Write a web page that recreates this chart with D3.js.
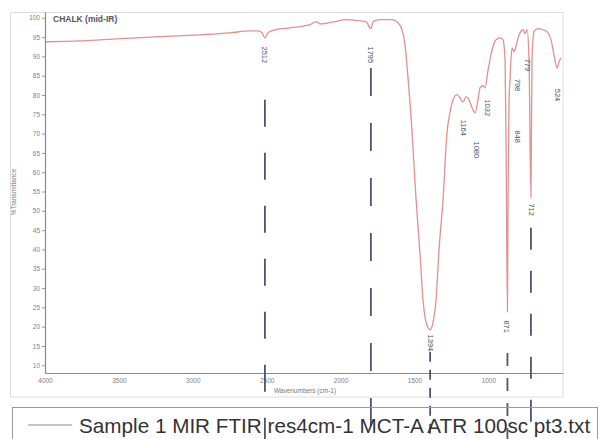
<!DOCTYPE html>
<html><head><meta charset="utf-8">
<script src="https://cdn.jsdelivr.net/npm/d3@7"></script>
<style>body{margin:0;background:#fff;} svg{display:block;font-family:"Liberation Sans",Arial,sans-serif;}</style>
</head><body><svg id="c" width="601" height="439"></svg>
<script>
// ---- data ----
const wavenumbers = [3993,3763,3492,3222,2951,2748,2613,2559,2531,2512,2491,2444,2342,2207,2166,2139,2038,1970,1868,1828,1795,1780,1733,1652,1611,1584,1564,1550,1516,1489,1462,1442,1422,1394,1374,1354,1334,1307,1280,1259,1239,1212,1192,1171,1151,1131,1110,1090,1070,1056,1036,1022,1002,975,948,921,901,887,880,871,867,860,853,840,826,813,799,786,765,752,738,725,712,705,691,664,630,596,576,556,535,522,508];
const transmittance = [93.8,94.0,94.6,95.1,95.6,96.1,96.6,96.6,96.1,94.8,96.1,96.9,97.4,98.2,99.0,98.4,99.0,99.5,99.2,99.0,97.2,99.0,99.5,99.5,98.7,96.9,93.0,87.3,70.2,52.8,38.6,26.9,21.2,19.2,21.2,26.9,39.9,52.8,70.2,75.6,78.8,80.1,79.3,78.2,79.5,78.8,76.7,75.4,78.8,81.9,82.4,81.9,86.5,91.7,94.3,94.8,94.3,89.1,65.8,23.8,52.8,78.8,84.5,92.2,91.2,92.7,94.8,96.1,96.9,95.9,96.9,89.1,53.4,89.1,96.4,97.2,96.9,96.1,94.3,90.4,87.0,88.6,89.6];

const peakLabels  = ["2512","1795","1394","1164","1080","1032","871","848","798","779","712","524"];
const peakLabelWn = [2512,1795,1394,1171,1077,1009,874,806,806,738,705,535];
const peakLabelT  = [90.4,90.4,15.8,71.5,65.8,76.7,20.0,69.2,82.6,87.8,50.3,80.0];

const markedPeaks = [2512,1795,1394,871,712];
const markStartT  = [78.8,87.0,13.5,13.2,45.6];

const xTicks = [4000,3500,3000,2500,2000,1500,1000];
const yTicks = [10,15,20,25,30,35,40,45,50,55,60,65,70,75,80,85,90,95,100];

const chartTitle = "CHALK (mid-IR)";
const xTitle = "Wavenumbers (cm-1)";
const yTitle = "%Transmittance";
const legendText = "Sample 1 MIR FTIR res4cm-1 MCT-A ATR 100sc pt3.txt";

// ---- drawing ----
const W = 601, H = 439;
const svg = d3.select("#c");
const x = d3.scaleLinear().domain([4000,495]).range([45,563]);
const y = d3.scaleLinear().domain([8,101.5]).range([373,12]);

// outer frame
svg.append("rect").attr("x",10.5).attr("y",12.5).attr("width",552.5).attr("height",384.5)
  .attr("fill","none").attr("stroke","#dcdcdc").attr("stroke-width",1);

// axes
const gy = svg.append("g").attr("transform","translate(45,0)")
  .call(d3.axisLeft(y).tickValues(yTicks).tickFormat(d3.format("d")).tickSize(3).tickSizeOuter(0).tickPadding(2));
const gx = svg.append("g").attr("transform","translate(0,373)")
  .call(d3.axisBottom(x).tickValues(xTicks).tickFormat(d3.format("d")).tickSize(0).tickSizeOuter(0).tickPadding(5));
[gy,gx].forEach(g=>{
  g.select(".domain").attr("stroke","#8a8a8a").attr("stroke-width",1.2);
  g.selectAll(".tick line").attr("stroke","#999");
  g.selectAll(".tick text").attr("fill","#808080").style("font-size","6.5px").style("font-family","Liberation Sans, Arial, sans-serif");
});

// titles
svg.append("text").attr("x",53).attr("y",22).text(chartTitle)
  .attr("font-size","8.5px").attr("font-weight","bold").attr("fill","#555");
svg.append("text").attr("x",305).attr("y",393).attr("text-anchor","middle").text(xTitle)
  .attr("font-size","6.5px").attr("fill","#777");
svg.append("text").attr("transform","translate(16,192) rotate(-90)").attr("text-anchor","middle").text(yTitle)
  .attr("font-size","6.5px").attr("fill","#777");

// spectrum
const pts = wavenumbers.map((w,i)=>[w,transmittance[i]]);
svg.append("path").datum(pts)
  .attr("d", d3.line().x(d=>x(d[0])).y(d=>y(d[1])).curve(d3.curveMonotoneX))
  .attr("fill","none").attr("stroke","#e39090").attr("stroke-width",1.3).attr("stroke-linejoin","round");

// dashed peak markers
const markDash = ["27,26","28,27","10,8","13,12","22,21"];
markedPeaks.forEach((w,i)=>{
  svg.append("line").attr("x1",x(w)).attr("x2",x(w))
    .attr("y1",y(markStartT[i])).attr("y2",H)
    .attr("stroke","#4b5570").attr("stroke-width",1.8).attr("stroke-dasharray",markDash[i]);
});

// peak labels
peakLabels.forEach((t,i)=>{
  svg.append("text").attr("transform",`translate(${x(peakLabelWn[i])},${y(peakLabelT[i])}) rotate(90)`)
    .attr("text-anchor","middle").attr("dominant-baseline","central")
    .attr("font-size","7.5px").attr("fill","#4b5066").text(t);
});

// legend
svg.append("rect").attr("x",12.5).attr("y",407.5).attr("width",585).attr("height",40)
  .attr("fill","none").attr("stroke","#9a9a9a");
svg.append("line").attr("x1",28).attr("x2",72).attr("y1",425).attr("y2",425).attr("stroke","#888").attr("stroke-width",1);
svg.append("text").attr("x",79).attr("y",433).attr("font-size","20.7px").attr("fill","#333").text(legendText);
</script></body></html>
